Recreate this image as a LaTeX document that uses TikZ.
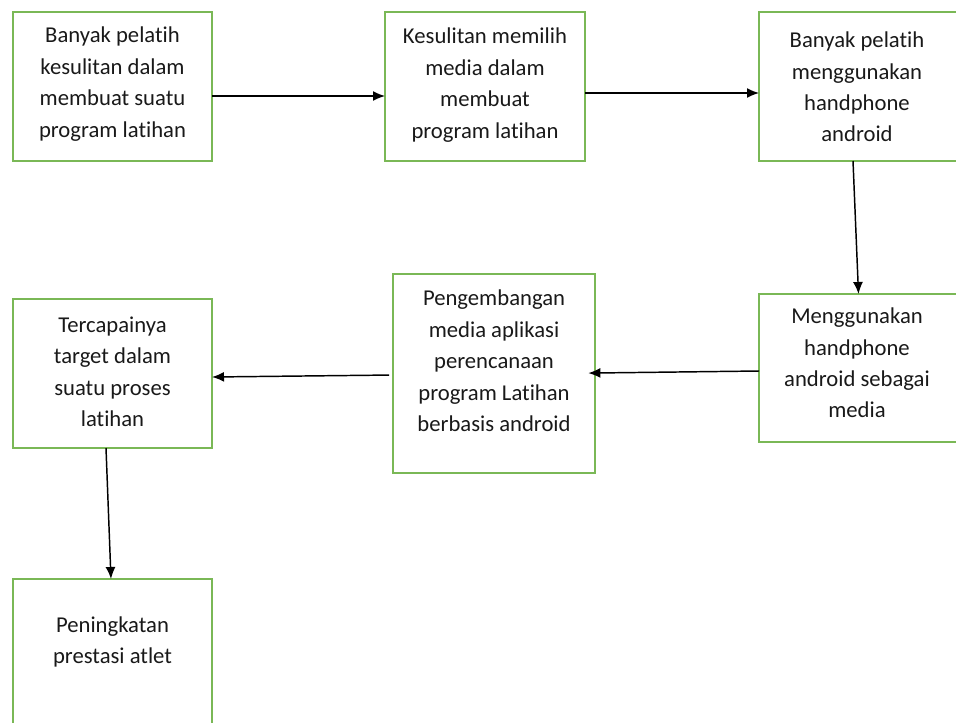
\documentclass[tikz,border=0pt]{standalone}
\usepackage{fontspec}
\setmainfont{Carlito}[Ligatures=NoCommon]
\usetikzlibrary{arrows.meta}
\definecolor{boxgreen}{RGB}{122,184,86}
\definecolor{txtgray}{RGB}{25,25,25}
\begin{document}
\begin{tikzpicture}[x=0.75pt,y=-0.75pt,
  box/.style={draw=boxgreen, line width=1.4pt, inner sep=0pt, outer sep=0pt, minimum width=149.25pt, minimum height=111.75pt},
  txt/.style={align=center, inner sep=0pt, text=txtgray, font=\fontsize{17}{23.6}\selectfont},
  arr/.style={draw=black, line width=1.1pt, -{Latex[length=9pt,width=7.5pt]}}]
\useasboundingbox (0,0) rectangle (956,722);
\clip (0,0) rectangle (956,722);
% boxes
\node[box] (b1) at (112.5,86.5) {};
\node[box, minimum width=150pt] (b2) at (485,86.5) {};
\node[box] (b3) at (858.5,86.5) {};
\node[box, minimum height=111pt] (b4) at (858.5,368) {};
\node[box, minimum width=151.5pt, minimum height=149.25pt] (b5) at (494,373.5) {};
\node[box] (b6) at (112.5,373.5) {};
\node[box] (b7) at (112.5,653.5) {};
% texts
\node[txt] (t1) at (112.5,84) {Banyak pelatih\\kesulitan dalam\\membuat suatu\\program latihan};
\node[txt] (t2) at (485,85) {Kesulitan memilih\\media dalam\\membuat\\program latihan};
\node[txt] (t3) at (857,87) {Banyak pelatih\\menggunakan\\handphone\\android};
\node[txt] (t4) at (857,363) {Menggunakan\\handphone\\android sebagai\\media};
\node[txt] (t5) at (494,361) {Pengembangan\\media aplikasi\\perencanaan\\program Latihan\\berbasis android};
\node[txt] (t6) at (112.5,372) {Tercapainya\\target dalam\\suatu proses\\latihan};
\node[txt] (t7) at (112.5,642) {Peningkatan\\prestasi atlet};
% helper coordinates
\coordinate (r1) at (0,96);
\coordinate (r2) at (0,93);
\coordinate (c34) at (853,0);
\coordinate (r4a) at (0,371);
\coordinate (r4b) at (0,373);
\coordinate (r5a) at (0,375);
\coordinate (r5b) at (0,377);
\coordinate (c67) at (106,0);
\coordinate (c67b) at (111,0);
% connectors
\draw[arr] (b1.east |- r1) -- (b2.west |- r1);
\draw[arr] (b2.east |- r2) -- (b3.west |- r2);
\draw[arr] (c34 |- b3.south) -- (b4.north);
\draw[arr, shorten >=-5pt] (b4.west |- r4a) -- (b5.east |- r4b);
\draw[arr, shorten <=3pt] (b5.west |- r5a) -- (b6.east |- r5b);
\draw[arr] (c67 |- b6.south) -- (c67b |- b7.north);
\end{tikzpicture}
\end{document}
